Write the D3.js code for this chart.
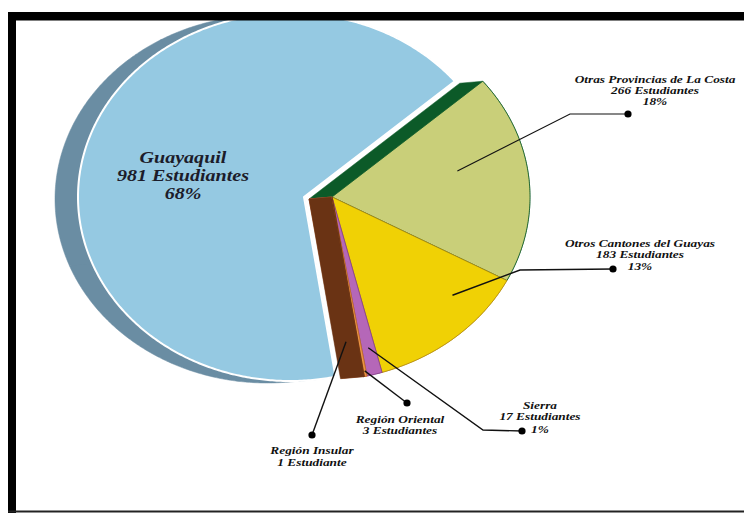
<!DOCTYPE html>
<html><head><meta charset="utf-8">
<script src="https://cdn.jsdelivr.net/npm/d3@7"></script>
<style>html,body{margin:0;padding:0;background:#fff;} svg{display:block}</style>
</head><body><svg id="c" width="744" height="514"></svg>
<script>
// ---- data ----
const categories = ["Otras Provincias de La Costa","Otros Cantones del Guayas","Sierra","Región Oriental","Región Insular","Guayaquil"];
const students = [266,183,17,3,1,981];
const countLabels = ["266 Estudiantes","183 Estudiantes","17 Estudiantes","3 Estudiantes","1 Estudiante","981 Estudiantes"];
const percentLabels = ["18%","13%","1%","","","68%"];
const topColors = ["#c9cf79","#f0d105","#b567b8","#ea9444","#7a3a18","#95c9e2"];
const sideColors = ["#0c5a28","#b58c12","#86408a","#c26c26","#6a3314","#6a8da3"];

// ---- geometry ----
const svg = d3.select("#c");
const C = {x:318, y:197}, rx = 212, ry = 184;   // ellipse of the pie top
const A = {x:332, y:197};                       // apex of the slices
const D = {x:-23, y:2};                         // 3D depth direction
const E = {x:-28, y:0};                         // explode offset of Guayaquil
const explodedIndex = 5;
const a0 = 51*Math.PI/180;
const pie = d3.pie().sort(null).value(d=>d).startAngle(a0).endAngle(a0+2*Math.PI);
const arcs = pie(students);
function rim(a){ return [C.x + rx*Math.sin(a), C.y - ry*Math.cos(a)]; }
function sectorPts(s, e){
  const pts = [[A.x, A.y]];
  const n = Math.max(2, Math.ceil((e-s)/0.01));
  for (let i=0;i<=n;i++) pts.push(rim(s + (e-s)*i/n));
  return pts;
}
function inner(d, af, rf){
  const a = d.startAngle + (d.endAngle-d.startAngle)*af;
  const p = rim(a);
  return [A.x + rf*(p[0]-A.x), A.y + rf*(p[1]-A.y)];
}
const closed = d3.line().curve(d3.curveLinearClosed);
const gPie = svg.append("g");

// side walls: sweep each slice along D (convex pieces -> hull)
arcs.forEach((d,i)=>{
  const off = i===explodedIndex ? E : {x:0,y:0};
  const span = d.endAngle - d.startAngle;
  const pieces = Math.max(1, Math.ceil(span/(Math.PI/2)));
  for (let p=0;p<pieces;p++){
    const s = d.startAngle + span*p/pieces, e = d.startAngle + span*(p+1)/pieces;
    const pts = sectorPts(s,e);
    const all = pts.concat(pts.map(q=>[q[0]+D.x, q[1]+D.y]));
    const hull = d3.polygonHull(all);
    gPie.append("path").attr("d", closed(hull))
      .attr("transform", `translate(${off.x},${off.y})`)
      .attr("fill", sideColors[i]).attr("stroke", sideColors[i]).attr("stroke-width", 0.5);
  }
});
// top faces
arcs.forEach((d,i)=>{
  const off = i===explodedIndex ? E : {x:0,y:0};
  gPie.append("path").attr("d", closed(sectorPts(d.startAngle, d.endAngle)))
    .attr("transform", `translate(${off.x},${off.y})`)
    .attr("fill", topColors[i])
    .attr("stroke", i===explodedIndex ? "#ffffff" : sideColors[i])
    .attr("stroke-width", i===explodedIndex ? 2 : 0.8)
    .attr("stroke-linejoin","round");
});

// ---- labels ----
const font = "'Liberation Serif','Times New Roman',serif";
const labelLayout = [
  {cx:655, base:[83,94,105], sx:1.27, fs:10.5, af:0.4, rf:0.65, wall:0, path:[[570,114],[628,114]]},
  {cx:640, base:[247,258,270], sx:1.27, fs:10.5, af:0.3, rf:0.82, wall:0, path:[[520,270],[613,269]]},
  {cx:540, base:[409,420,433], sx:1.27, fs:10.5, af:0.5, rf:0.85, wall:0, path:[[483,430],[522,431]]},
  {cx:400, base:[423,434], sx:1.27, fs:10.5, af:0.5, rf:0.97, wall:0, path:[[407,403]]},
  {cx:312, base:[454,466], sx:1.27, fs:10.5, af:0.5, rf:0.8, wall:0.5, path:[[312,435]]},
  {cx:183, base:[163,181,199], sx:1.18, fs:17, af:0, rf:0, wall:0, path:null}
];
const gLab = svg.append("g");
arcs.forEach((d,i)=>{
  const L = labelLayout[i];
  if (L.path){
    const p = inner(d, L.af, L.rf);
    p[0] += D.x*L.wall; p[1] += D.y*L.wall;
    const pts = [p].concat(L.path);
    gLab.append("path").attr("d", d3.line()(pts)).attr("fill","none")
      .attr("stroke","#111").attr("stroke-width", i===0?1.1:1.4);
    const dot = L.path[L.path.length-1];
    gLab.append("circle").attr("cx",dot[0]).attr("cy",dot[1]).attr("r",3.6).attr("fill","#000");
  }
  const lines = [categories[i], countLabels[i]];
  if (percentLabels[i]) lines.push(percentLabels[i]);
  const g = gLab.append("g").attr("transform", `translate(${L.cx},0) scale(${L.sx},1)`);
  lines.forEach((s,j)=>{
    g.append("text").attr("x",0).attr("y",L.base[j]).attr("text-anchor","middle")
      .attr("font-family",font).attr("font-style","italic").attr("font-weight","bold")
      .attr("font-size",L.fs).attr("fill", i===explodedIndex ? "#1c1c2a" : "#111").text(s);
  });
});

// ---- frame ----
const gF = svg.append("g").attr("fill","#000");
gF.append("rect").attr("x",8).attr("y",12).attr("width",736).attr("height",8.5);
gF.append("rect").attr("x",8).attr("y",12).attr("width",8).attr("height",501);
gF.append("rect").attr("x",8).attr("y",510.5).attr("width",736).attr("height",2).attr("fill","#222");
</script>
</body></html>
